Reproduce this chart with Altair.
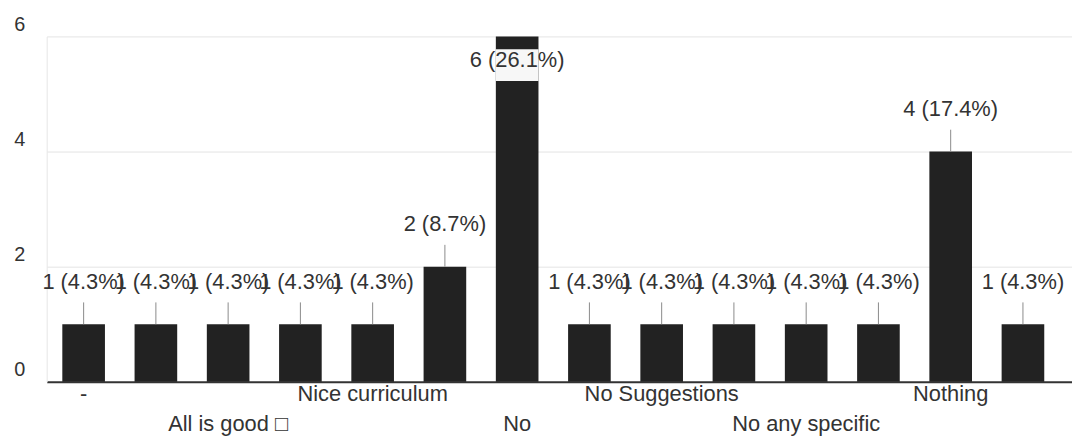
import altair as alt
import pandas as pd

# Answers (alphabetical order as in the form summary); only every other one is labelled
categories = [
    "-", "All good", "All is good □", "Good", "Nice curriculum", "Nil",
    "No", "No comment", "No Suggestions", "No changes", "No any specific",
    "Not really", "Nothing", "Nothing to suggest",
]
counts = [1, 1, 1, 1, 1, 2, 6, 1, 1, 1, 1, 1, 4, 1]

# Axis labels that are visible, on the first and the second row
row1_labels = ["-", "Nice curriculum", "No Suggestions", "Nothing"]
row2_labels = ["All is good □", "No", "No any specific"]

total = sum(counts)
value_labels = [f"{c} ({c / total * 100:.1f}%)" for c in counts]

df = pd.DataFrame({"answer": categories, "count": counts, "label": value_labels})
df["is_max"] = df["count"] == df["count"].max()


def js_list(items):
    return "[" + ",".join("'" + s.replace("'", "\\'") + "'" for s in items) + "]"


label_expr = (
    f"indexof({js_list(row1_labels)}, datum.label) >= 0 ? datum.label : "
    f"(indexof({js_list(row2_labels)}, datum.label) >= 0 ? ['', datum.label] : '')"
)

FONT = "Liberation Sans"

x_enc = alt.X(
    "answer:N",
    sort=None,
    title=None,
    scale=alt.Scale(paddingInner=0.41, paddingOuter=0.3, align=0.36),
    axis=alt.Axis(
        labelExpr=label_expr,
        labelAngle=0,
        labelFont=FONT,
        labelFontSize=22,
        labelColor="#333333",
        labelPadding=2,
        labelLineHeight=30,
        labelBaseline="top",
        labelOverlap=False,
        ticks=False,
        domainColor="#333333",
        domainWidth=2,
        grid=False,
    ),
)

y_enc = alt.Y(
    "count:Q",
    title=None,
    scale=alt.Scale(domain=[0, 6], nice=False),
    axis=alt.Axis(
        values=[0, 2, 4, 6],
        labelFont=FONT,
        labelFontSize=20,
        labelColor="#333333",
        labelPadding=22,
        labelOffset=-12,
        ticks=False,
        domainColor="#e6e6e6",
        gridColor="#e4e4e4",
    ),
)

base = alt.Chart(df)

bars = base.mark_bar(color="#222222").encode(x=x_enc, y=y_enc)

patch = (
    base.transform_filter("datum.is_max")
    .mark_bar(color="#f7f7f7", yOffset=13, y2Offset=45)
    .encode(x=x_enc, y=y_enc, y2=alt.Y2("count:Q"))
)

leaders = (
    base.transform_filter("!datum.is_max")
    .mark_rule(color="#8a8a8a", strokeWidth=1, y2Offset=-22)
    .encode(x=x_enc, y=y_enc, y2=alt.Y2("count:Q"))
)

labels_above = (
    base.transform_filter("!datum.is_max")
    .mark_text(font=FONT, fontSize=22, color="#333333", baseline="middle", dy=-43)
    .encode(x=x_enc, y=y_enc, text="label:N")
)

labels_inside = (
    base.transform_filter("datum.is_max")
    .mark_text(font=FONT, fontSize=22, color="#333333", baseline="middle", dy=24)
    .encode(x=x_enc, y=y_enc, text="label:N")
)

chart = (
    alt.layer(bars, patch, leaders, labels_above, labels_inside)
    .properties(
        width=1033,
        height=348,
        padding={"left": 39, "top": 27, "right": 0, "bottom": 58},
        autosize=alt.AutoSizeParams(type="none"),
        background="white",
    )
    .configure_view(stroke=None)
)

chart.save("out.html", embed_options={"renderer": "svg", "actions": False})
